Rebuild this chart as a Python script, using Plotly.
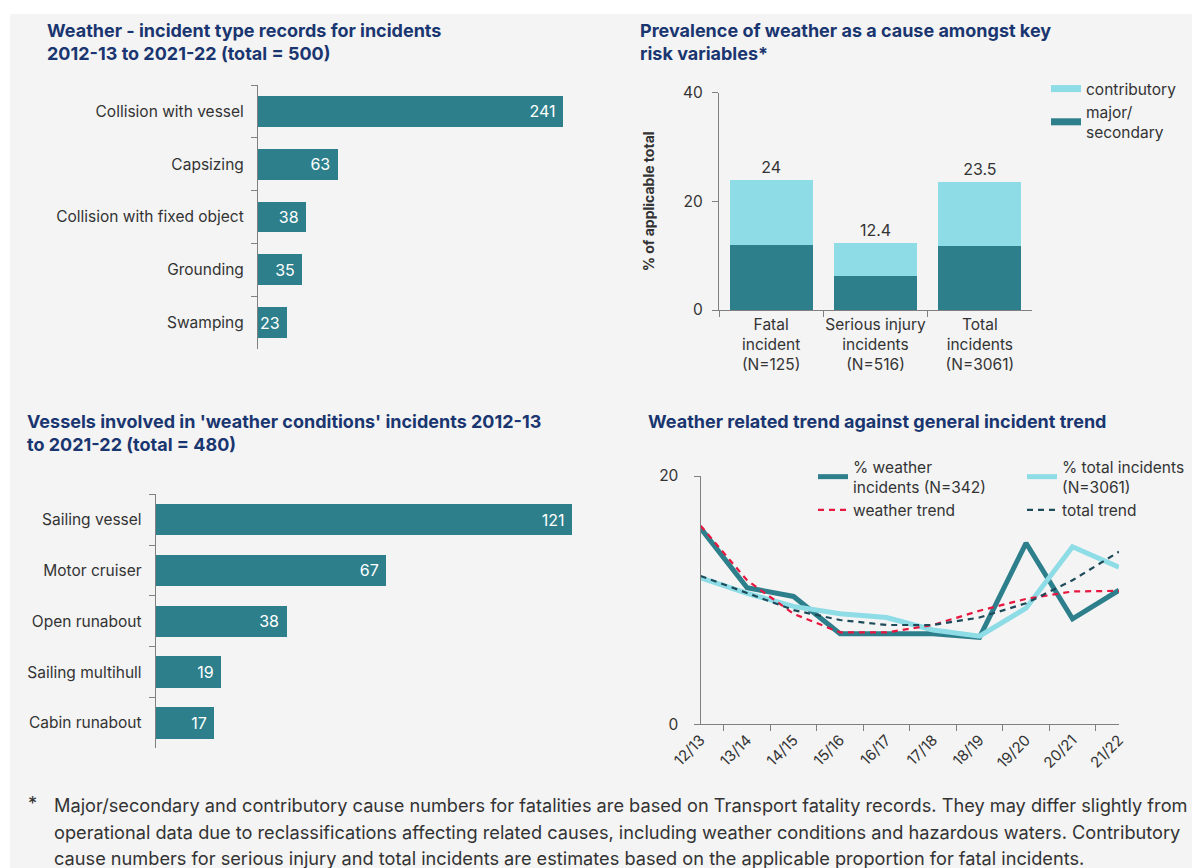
import plotly.graph_objects as go

W, H = 1192, 868


def px(x):
    return x / W


def py(y):
    return 1 - y / H


# ---------------- data ----------------
incident_types = ["Collision with vessel", "Capsizing", "Collision with fixed object",
                  "Grounding", "Swamping"]
incident_counts = [241, 63, 38, 35, 23]

prev_categories = ["Fatal<br>incident<br>(N=125)",
                   "Serious injury<br>incidents<br>(N=516)",
                   "Total<br>incidents<br>(N=3061)"]
prev_major = [12.0, 6.2, 11.75]
prev_contrib = [12.0, 6.2, 11.75]
prev_totals = [24, 12.4, 23.5]

vessel_types = ["Sailing vessel", "Motor cruiser", "Open runabout",
                "Sailing multihull", "Cabin runabout"]
vessel_counts = [121, 67, 38, 19, 17]

years = ["12/13", "13/14", "14/15", "15/16", "16/17",
         "17/18", "18/19", "19/20", "20/21", "21/22"]
weather_pct = [15.8, 11.0, 10.3, 7.3, 7.3, 7.3, 7.0, 14.6, 8.5, 10.8]
total_pct = [11.8, 10.55, 9.5, 8.9, 8.6, 7.6, 7.1, 9.35, 14.3, 12.65]
weather_trend = [16.0, 11.6, 8.9, 7.4, 7.4, 8.0, 9.15, 10.1, 10.7, 10.75]
total_trend = [11.95, 10.55, 9.2, 8.4, 8.0, 8.0, 8.6, 9.75, 11.6, 13.9]

# ---------------- styles ----------------
TEAL = "#2e7f8c"
LIGHT = "#8ddce6"
RED = "#e8173f"
DARK = "#1e4b5a"
NAVY = "#1a3670"
TXT = "#333333"
AXC = "#808080"
FONT = "Inter"

fig = go.Figure()

# Chart 1: incident types
fig.add_trace(go.Bar(
    y=incident_types, x=incident_counts, orientation="h",
    marker=dict(color=TEAL, line=dict(width=0)), width=0.58,
    text=[f"{v} " for v in incident_counts], textposition="inside",
    insidetextanchor="end", constraintext="none", textangle=0,
    textfont=dict(color="white", size=16, family=FONT),
    xaxis="x", yaxis="y", showlegend=False))

# Chart 2: prevalence stacked bars
fig.add_trace(go.Bar(
    x=prev_categories, y=prev_major, marker=dict(color=TEAL, line=dict(width=0)),
    width=0.795, xaxis="x2", yaxis="y2", showlegend=False))
fig.add_trace(go.Bar(
    x=prev_categories, y=prev_contrib, marker=dict(color=LIGHT, line=dict(width=0)),
    width=0.795, xaxis="x2", yaxis="y2", showlegend=False,
    text=[f"{v:g}" for v in prev_totals], textposition="outside", textangle=0,
    textfont=dict(color=TXT, size=16, family=FONT), cliponaxis=False))
fig.add_trace(go.Scatter(x=[None], y=[None], mode="lines", name="contributory",
                         line=dict(color=LIGHT, width=7), xaxis="x2", yaxis="y2",
                         legend="legend"))
fig.add_trace(go.Scatter(x=[None], y=[None], mode="lines", name="major/<br>secondary",
                         line=dict(color=TEAL, width=7), xaxis="x2", yaxis="y2",
                         legend="legend"))

# Chart 3: vessels
fig.add_trace(go.Bar(
    y=vessel_types, x=vessel_counts, orientation="h",
    marker=dict(color=TEAL, line=dict(width=0)), width=0.62,
    text=[f"{v} " for v in vessel_counts], textposition="inside",
    insidetextanchor="end", constraintext="none", textangle=0,
    textfont=dict(color="white", size=16, family=FONT),
    xaxis="x3", yaxis="y3", showlegend=False))

# Chart 4: trends
fig.add_trace(go.Scatter(x=years, y=weather_pct, mode="lines",
                         name="% weather<br>incidents (N=342)",
                         line=dict(color=TEAL, width=5), xaxis="x4", yaxis="y4",
                         legend="legend2"))
fig.add_trace(go.Scatter(x=years, y=total_pct, mode="lines",
                         name="% total incidents<br>(N=3061)",
                         line=dict(color=LIGHT, width=5), xaxis="x4", yaxis="y4",
                         legend="legend3"))
fig.add_trace(go.Scatter(x=years, y=weather_trend, mode="lines", name="weather trend",
                         line=dict(color=RED, width=2.2, dash="6px,5px"),
                         xaxis="x4", yaxis="y4", legend="legend2"))
fig.add_trace(go.Scatter(x=years, y=total_trend, mode="lines", name="total trend",
                         line=dict(color=DARK, width=2.2, dash="6px,5px"),
                         xaxis="x4", yaxis="y4", legend="legend3"))

tickfont = dict(family=FONT, size=15.5, color=TXT)

cat_y = dict(type="category", autorange="reversed", showline=True, linecolor=AXC,
             linewidth=1.2, ticks="outside", tickson="boundaries", ticklen=6,
             tickcolor=AXC, tickfont=tickfont, showgrid=False, zeroline=False,
             ticklabelstandoff=10, automargin=False)
hidden_x = dict(visible=False, showgrid=False, zeroline=False, automargin=False)

leg_common = dict(xanchor="left", yanchor="top",
                  font=dict(family=FONT, size=15.5, color=TXT),
                  bgcolor="rgba(0,0,0,0)", traceorder="normal")

fig.update_layout(
    width=W, height=H,
    margin=dict(l=0, r=0, t=0, b=0, pad=0),
    paper_bgcolor="white", plot_bgcolor="rgba(0,0,0,0)",
    font=dict(family=FONT, color=TXT),
    barmode="stack",
    xaxis=dict(hidden_x, domain=[px(258), px(258 + 250 * 1.2656)], range=[0, 250], anchor="y"),
    yaxis=dict(cat_y, domain=[py(349), py(85)], anchor="x"),
    xaxis2=dict(domain=[px(719), px(1032)], anchor="y2", type="category",
                showline=True, linecolor=AXC, linewidth=1.2, ticks="outside",
                tickson="boundaries", ticklen=6, tickcolor=AXC, tickfont=tickfont,
                tickangle=0, showgrid=False, zeroline=False, automargin=False),
    yaxis2=dict(domain=[py(310), py(92.7)], anchor="x2", range=[0, 40],
                tickvals=[0, 20, 40], showline=True, linecolor=AXC, linewidth=1.2,
                ticks="outside", ticklen=6, tickcolor=AXC, tickfont=tickfont,
                showgrid=False, zeroline=False, ticklabelstandoff=6, automargin=False,
                title=dict(text="<b>% of applicable total</b>",
                           font=dict(family=FONT, size=14, color=TXT), standoff=25)),
    xaxis3=dict(hidden_x, domain=[px(155.8), px(155.8 + 125 * 3.44)], range=[0, 125], anchor="y3"),
    yaxis3=dict(cat_y, domain=[py(748.3), py(494.3)], anchor="x3"),
    xaxis4=dict(domain=[px(700.6), px(1119)], anchor="y4", type="category",
                showline=True, linecolor=AXC, linewidth=1.2, ticks="outside",
                tickson="boundaries", ticklen=6, tickcolor=AXC,
                tickfont=dict(family=FONT, size=15, color=TXT), tickangle=-45,
                showgrid=False, zeroline=False, automargin=False),
    yaxis4=dict(domain=[py(724.3), py(476)], anchor="x4", range=[0, 20],
                tickvals=[0, 20], showline=True, linecolor=AXC, linewidth=1.2,
                ticks="outside", ticklen=6, tickcolor=AXC, tickfont=tickfont,
                showgrid=False, zeroline=False, ticklabelstandoff=12, automargin=False),
    legend=dict(leg_common, x=px(1046), y=py(72)),
    legend2=dict(leg_common, x=px(813), y=py(450)),
    legend3=dict(leg_common, x=px(1022), y=py(450)),
    shapes=[dict(type="rect", xref="paper", yref="paper", x0=px(10), x1=1.0,
                 y0=0, y1=py(14), fillcolor="#f4f4f4", line=dict(width=0),
                 layer="below")],
)

title_font = dict(family=FONT, size=18, color=NAVY)
annots = [
    dict(x=px(45), y=py(18), text="<b>Weather - incident type records for incidents<br>2012-13 to 2021-22 (total = 500)</b>"),
    dict(x=px(638), y=py(18), text="<b>Prevalence of weather as a cause amongst key<br>risk variables*</b>"),
    dict(x=px(25), y=py(409), text="<b>Vessels involved in 'weather conditions' incidents 2012-13<br>to 2021-22 (total = 480)</b>"),
    dict(x=px(646), y=py(409), text="<b>Weather related trend against general incident trend</b>"),
]
for a in annots:
    fig.add_annotation(xref="paper", yref="paper", xanchor="left", yanchor="top",
                       align="left", showarrow=False, font=title_font, **a)

foot_font = dict(family=FONT, size=18.2, color=TXT)
foot_lines = [
    "Major/secondary and contributory cause numbers for fatalities are based on Transport fatality records. They may differ slightly from",
    "operational data due to reclassifications affecting related causes, including weather conditions and hazardous waters. Contributory",
    "cause numbers for serious injury and total incidents are estimates based on the applicable proportion for fatal incidents.",
]
for text, yy in zip(foot_lines, [805, 831.5, 857.5]):
    fig.add_annotation(xref="paper", yref="paper", x=px(52), y=py(yy), xanchor="left",
                       yanchor="middle", align="left", showarrow=False, text=text,
                       font=foot_font)
fig.add_annotation(xref="paper", yref="paper", x=px(32), y=py(803), xanchor="center",
                   yanchor="middle", showarrow=False, text="*", font=foot_font)

fig.write_html("out.html",
               config={"displayModeBar": False},
               post_script="document.body.style.margin='0px';"
                           "document.body.style.overflow='hidden';")
